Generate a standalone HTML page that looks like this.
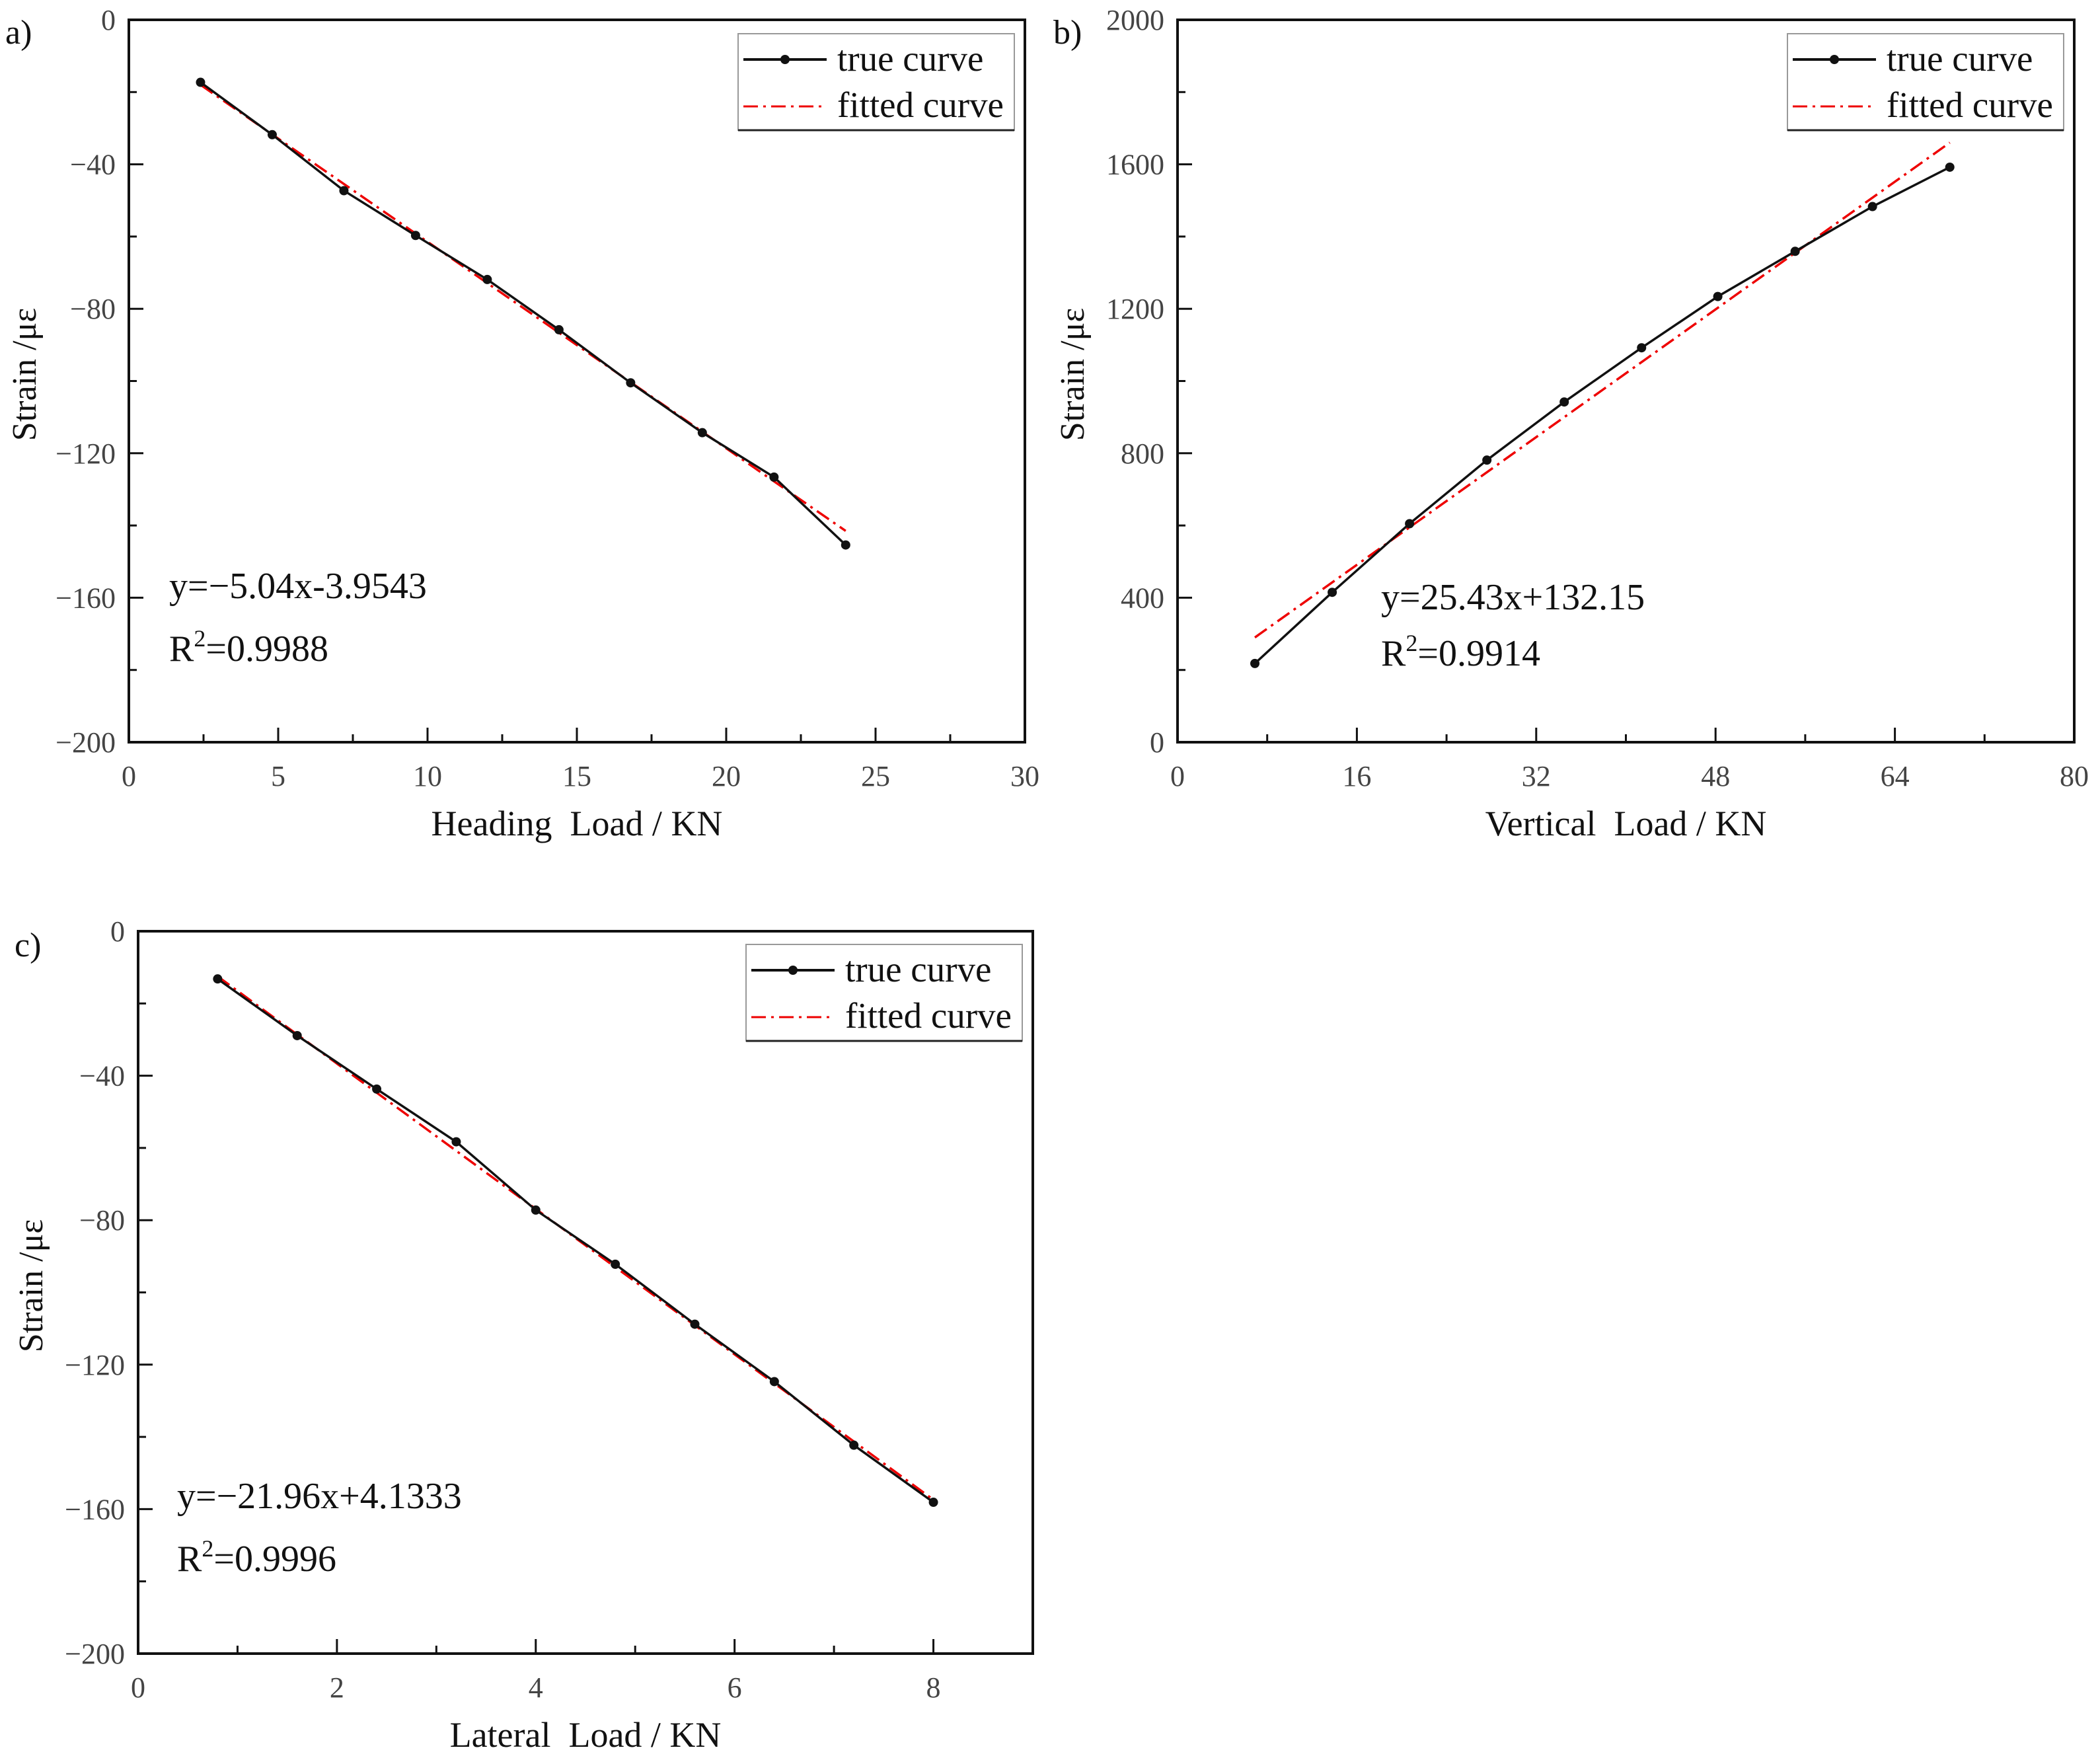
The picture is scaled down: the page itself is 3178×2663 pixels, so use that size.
<!DOCTYPE html>
<html><head><meta charset="utf-8"><style>
html,body{margin:0;padding:0;background:#fff;}
svg{display:block;}
text{font-family:"Liberation Serif",serif;}
</style></head><body>
<svg id="fig" width="3178" height="2663" viewBox="0 0 3178 2663" xmlns="http://www.w3.org/2000/svg"></svg>
<script>
// Panel a data
const aX = [2.4,4.8,7.2,9.6,12,14.4,16.8,19.2,21.6,24];
const aY = [-17.3,-31.8,-47.3,-59.7,-71.9,-85.8,-100.5,-114.3,-126.6,-145.4];
const aFitX = [2.4,24];
const aFitY = [-18,-141.5];
const aXTicks = [0,5,10,15,20,25,30];
const aYTicks = [-200,-160,-120,-80,-40,0];
// Panel b data
const bX = [6.9,13.8,20.7,27.6,34.5,41.4,48.2,55.1,62.0,68.9];
const bY = [218,415,605,781,942,1092,1234,1359,1483,1592];
const bFitX = [6.9,68.9];
const bFitY = [290,1660];
const bXTicks = [0,16,32,48,64,80];
const bYTicks = [0,400,800,1200,1600,2000];
// Panel c data
const cX = [0.8,1.6,2.4,3.2,4.0,4.8,5.6,6.4,7.2,8.0];
const cY = [-13.2,-28.9,-43.7,-58.3,-77.2,-92.2,-108.8,-124.7,-142.3,-158.1];
const cFitX = [0.8,8.0];
const cFitY = [-12.5,-157.4];
const cXTicks = [0,2,4,6,8];
const cYTicks = [-200,-160,-120,-80,-40,0];

const NS="http://www.w3.org/2000/svg";
const svg=document.getElementById('fig');
function mk(tag,attrs,parent){const e=document.createElementNS(NS,tag);for(const k in attrs)e.setAttribute(k,attrs[k]);(parent||svg).appendChild(e);return e;}
function lab(v){return v<0?'\u2212'+Math.abs(v):String(v);}

function panel(id,box,xd,yd,xt,xminor,yt,yminor,X,Y,FX,FY,letter,xtitle,eq,r2,eqPos,legPos,ytitleX){
  const g=mk('g',{});
  
  
  const sx=v=>box.L+(v-xd[0])/(xd[1]-xd[0])*(box.R-box.L);
  const sy=v=>box.B-(v-yd[0])/(yd[1]-yd[0])*(box.B-box.T);
  const frame=mk('rect',{x:box.L,y:box.T,width:box.R-box.L,height:box.B-box.T,fill:'none',stroke:'#111','stroke-width':4},g);
  
  
  for(let v=xd[0];v<=xd[1]+1e-9;v+=xminor){
    const major=xt.some(t=>Math.abs(t-v)<1e-9);
    const tk=mk('line',{x1:sx(v),x2:sx(v),y1:box.B,y2:box.B-(major?22:12),stroke:'#111','stroke-width':3},g);
    
    
  }
  xt.forEach(v=>{
    const t=mk('text',{x:sx(v),y:box.B+66,'font-size':44,fill:'#444','text-anchor':'middle'},g);
    t.textContent=lab(v);
    
    
  });
  for(let v=yd[0];v<=yd[1]+1e-9;v+=yminor){
    const major=yt.some(t=>Math.abs(t-v)<1e-9);
    const tk=mk('line',{x1:box.L,x2:box.L+(major?22:12),y1:sy(v),y2:sy(v),stroke:'#111','stroke-width':3},g);
    
    
  }
  yt.forEach(v=>{
    const t=mk('text',{x:box.L-20,y:sy(v)+15,'font-size':44,fill:'#444','text-anchor':'end'},g);
    t.textContent=lab(v);
    
    
  });
  const fit=mk('polyline',{points:FX.map((x,i)=>sx(x)+','+sy(FY[i])).join(' '),fill:'none',stroke:'#e00','stroke-width':3.5,'stroke-dasharray':'22,8,4,8'},g);
  
  
  const tl=mk('polyline',{points:X.map((x,i)=>sx(x)+','+sy(Y[i])).join(' '),fill:'none',stroke:'#111','stroke-width':3.5},g);
  
  
  X.forEach((x,i)=>{
    const c=mk('circle',{cx:sx(x),cy:sy(Y[i]),r:7,fill:'#111'},g);
    
    
  });
  const lg=mk('g',{},g);
  
  
  const [lx,ly]=legPos;
  mk('rect',{x:lx,y:ly,width:418,height:146,fill:'#fff',stroke:'#999','stroke-width':2},lg);
  mk('line',{x1:lx,x2:lx+418,y1:ly+146,y2:ly+146,stroke:'#222','stroke-width':3},lg);
  mk('line',{x1:lx+8,x2:lx+134,y1:ly+39,y2:ly+39,stroke:'#111','stroke-width':4},lg);
  mk('circle',{cx:lx+71,cy:ly+39,r:7,fill:'#111'},lg);
  const t1=mk('text',{x:lx+150,y:ly+56,'font-size':55,fill:'#111'},lg);t1.textContent='true curve';
  
  
  mk('line',{x1:lx+8,x2:lx+134,y1:ly+110,y2:ly+110,stroke:'#e00','stroke-width':3,'stroke-dasharray':'22,8,4,8'},lg);
  const t2=mk('text',{x:lx+150,y:ly+126,'font-size':55,fill:'#111'},lg);t2.textContent='fitted curve';
  
  
  const e1=mk('text',{x:eqPos[0],y:eqPos[1],'font-size':56,fill:'#111'},g);e1.textContent=eq;
  
  
  const e2=mk('text',{x:eqPos[0],y:eqPos[1]+(id==='b'?85:95),'font-size':56,fill:'#111'},g);
  e2.innerHTML='R<tspan font-size="36" dy="-22">2</tspan><tspan dy="22">='+r2+'</tspan>';
  
  
  const xtl=mk('text',{x:(box.L+box.R)/2,y:box.B+141,'font-size':54,fill:'#111','text-anchor':'middle'},g);
  xtl.textContent=xtitle;
  
  
  const ym=(box.T+box.B)/2-10;
  const ytl=mk('text',{x:ytitleX,y:ym,'font-size':52,fill:'#111','text-anchor':'middle',transform:'rotate(-90 '+ytitleX+' '+ym+')'},g);
  ytl.textContent='Strain /\u03bc\u03b5';
  
  
  const pl=mk('text',{x:letter[1],y:letter[2],'font-size':52,fill:'#111'},g);
  pl.textContent=letter[0];
  
  
}
panel('a',{L:195,R:1551,T:30,B:1123},[0,30],[-200,0],aXTicks,2.5,aYTicks,20,aX,aY,aFitX,aFitY,['a)',8,66],'Heading\u00a0\u00a0Load / KN','y=\u22125.04x-3.9543','0.9988',[256,905],[1117,51],54);
panel('b',{L:1782,R:3139,T:30,B:1123},[0,80],[0,2000],bXTicks,8,bYTicks,200,bX,bY,bFitX,bFitY,['b)',1594,66],'Vertical\u00a0\u00a0Load / KN','y=25.43x+132.15','0.9914',[2090,922],[2705,51],1640);
panel('c',{L:209,R:1563,T:1409,B:2502},[0,9],[-200,0],cXTicks,1,cYTicks,20,cX,cY,cFitX,cFitY,['c)',22,1447],'Lateral\u00a0\u00a0Load / KN','y=\u221221.96x+4.1333','0.9996',[268,2282],[1129,1429],64);
</script>
</body></html>
